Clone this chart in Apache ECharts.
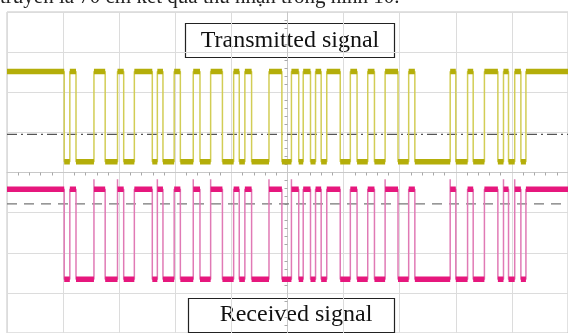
<!DOCTYPE html>
<html>
<head>
<meta charset="utf-8">
<script src="https://cdn.jsdelivr.net/npm/echarts@6/dist/echarts.min.js"></script>
<style>
html,body{margin:0;padding:0;background:#fff;}
#chart{width:568px;height:333px;}
</style>
</head>
<body>
<div id="chart"></div>
<script>
// Transition times (in screen divisions, centre = 0), signal starts high
const txEdges = [-3.98, -3.88, -3.77, -3.45, -3.25, -3.03, -2.92, -2.73, -2.41, -2.32,
  -2.22, -2.02, -1.91, -1.68, -1.56, -1.37, -1.16, -0.96, -0.86, -0.76,
  -0.64, -0.33, -0.10, 0.07, 0.20, 0.28, 0.41, 0.50, 0.60, 0.70,
  0.94, 1.12, 1.24, 1.43, 1.55, 1.74, 1.97, 2.16, 2.27, 2.90,
  3.00, 3.21, 3.31, 3.51, 3.75, 3.85, 3.94, 4.05, 4.16, 4.25];
const rxEdges = [-3.98, -3.88, -3.77, -3.45, -3.25, -3.03, -2.92, -2.73, -2.41, -2.32,
  -2.22, -2.02, -1.91, -1.68, -1.56, -1.37, -1.16, -0.96, -0.86, -0.76,
  -0.64, -0.33, -0.10, 0.07, 0.20, 0.28, 0.41, 0.50, 0.60, 0.70,
  0.94, 1.12, 1.24, 1.43, 1.55, 1.74, 1.97, 2.16, 2.27, 2.90,
  3.00, 3.21, 3.31, 3.51, 3.75, 3.85, 3.94, 4.05, 4.16, 4.25];
// rising edges of the received signal showing an overshoot spike
const rxOvershootEdges = [-3.45, -3.03, -2.32, -1.68, -1.37, -0.33, 0.07, 1.74, 2.90, 3.85, 4.05];
const txLevels = [2.52, 0.27];      // [high, low]
const rxLevels = [-0.42, -2.66, -0.17];  // [high, low, overshoot]
const txRefLevel = 0.95;
const rxRefLevel = -0.78;
const labels = ['Transmitted signal', 'Received signal'];
const caption = 'truyền là 70 cm kết quả thu nhận trong hình 10.';

function buildTrace(edges, hi, lo, over, overEdges) {
  const steps = [], plateaus = [];
  let level = hi, t0 = -5;
  steps.push([-5, hi]);
  edges.forEach(e => {
    plateaus.push([t0, level], [e, level], [e, null]);
    steps.push([e, level]);
    const next = level === hi ? lo : hi;
    if (next === hi && overEdges && overEdges.indexOf(e) >= 0) {
      steps.push([e, over]);
    }
    steps.push([e, next]);
    level = next; t0 = e;
  });
  plateaus.push([t0, level], [5, level]);
  steps.push([5, level]);
  return {steps, plateaus};
}

const tx = buildTrace(txEdges, txLevels[0], txLevels[1]);
const rx = buildTrace(rxEdges, rxLevels[0], rxLevels[1], rxLevels[2], rxOvershootEdges);

const chart = echarts.init(document.getElementById('chart'), null, {renderer: 'canvas'});
const gridLine = {show: true, lineStyle: {color: '#dcdcdc', width: 1}};
chart.setOption({
  backgroundColor: '#ffffff',
  animation: false,
  grid: {left: 7, top: 12, width: 563, height: 327, show: true, borderColor: '#c4c4c4', borderWidth: 1},
  xAxis: {
    type: 'value', min: -5, max: 5, interval: 1,
    axisLabel: {show: false},
    axisLine: {show: true, onZero: true, lineStyle: {color: '#c8c8c8'}},
    axisTick: {show: false},
    minorTick: {show: true, splitNumber: 5, length: 3, lineStyle: {color: '#a8a8a8'}},
    splitLine: gridLine
  },
  yAxis: {
    type: 'value', min: -4, max: 4, interval: 1,
    axisLabel: {show: false},
    axisLine: {show: true, onZero: true, lineStyle: {color: '#c8c8c8'}},
    axisTick: {show: false},
    minorTick: {show: true, splitNumber: 5, length: 3, lineStyle: {color: '#a8a8a8'}},
    splitLine: gridLine
  },
  series: [
    {type: 'line', data: [[-5, txRefLevel], [5, txRefLevel]], symbol: 'none', silent: true,
     lineStyle: {color: '#555', width: 1.3, type: [10, 4, 2, 4]}},
    {type: 'line', data: [[-5, rxRefLevel], [5, rxRefLevel]], symbol: 'none', silent: true,
     lineStyle: {color: '#777', width: 1.3, type: [10, 7]}},
    {type: 'line', data: tx.steps, symbol: 'none', lineStyle: {color: '#d2cd55', width: 1.5}},
    {type: 'line', data: tx.plateaus, symbol: 'none', connectNulls: false, lineStyle: {color: '#b4ae0a', width: 5.5}},
    {type: 'line', data: rx.steps, symbol: 'none', lineStyle: {color: '#e07ab5', width: 1.5}},
    {type: 'line', data: rx.plateaus, symbol: 'none', connectNulls: false, lineStyle: {color: '#e6177d', width: 5.5}}
  ],
  graphic: [
    {type: 'text', left: 0, top: -13, style: {text: caption, font: '21px "Liberation Serif"', fill: '#222'}},
    {type: 'rect', shape: {x: 185.5, y: 23.5, width: 209, height: 34}, style: {fill: '#fff', stroke: '#222', lineWidth: 1.2}},
    {type: 'text', x: 290, y: 40.5, style: {text: labels[0], font: '24px "Liberation Serif"', fill: '#111', align: 'center', verticalAlign: 'middle'}},
    {type: 'rect', shape: {x: 188.5, y: 298.5, width: 206, height: 34}, style: {fill: '#fff', stroke: '#222', lineWidth: 1.2}},
    {type: 'text', x: 296, y: 314.5, style: {text: labels[1], font: '24px "Liberation Serif"', fill: '#111', align: 'center', verticalAlign: 'middle'}}
  ]
});
</script>
</body>
</html>
